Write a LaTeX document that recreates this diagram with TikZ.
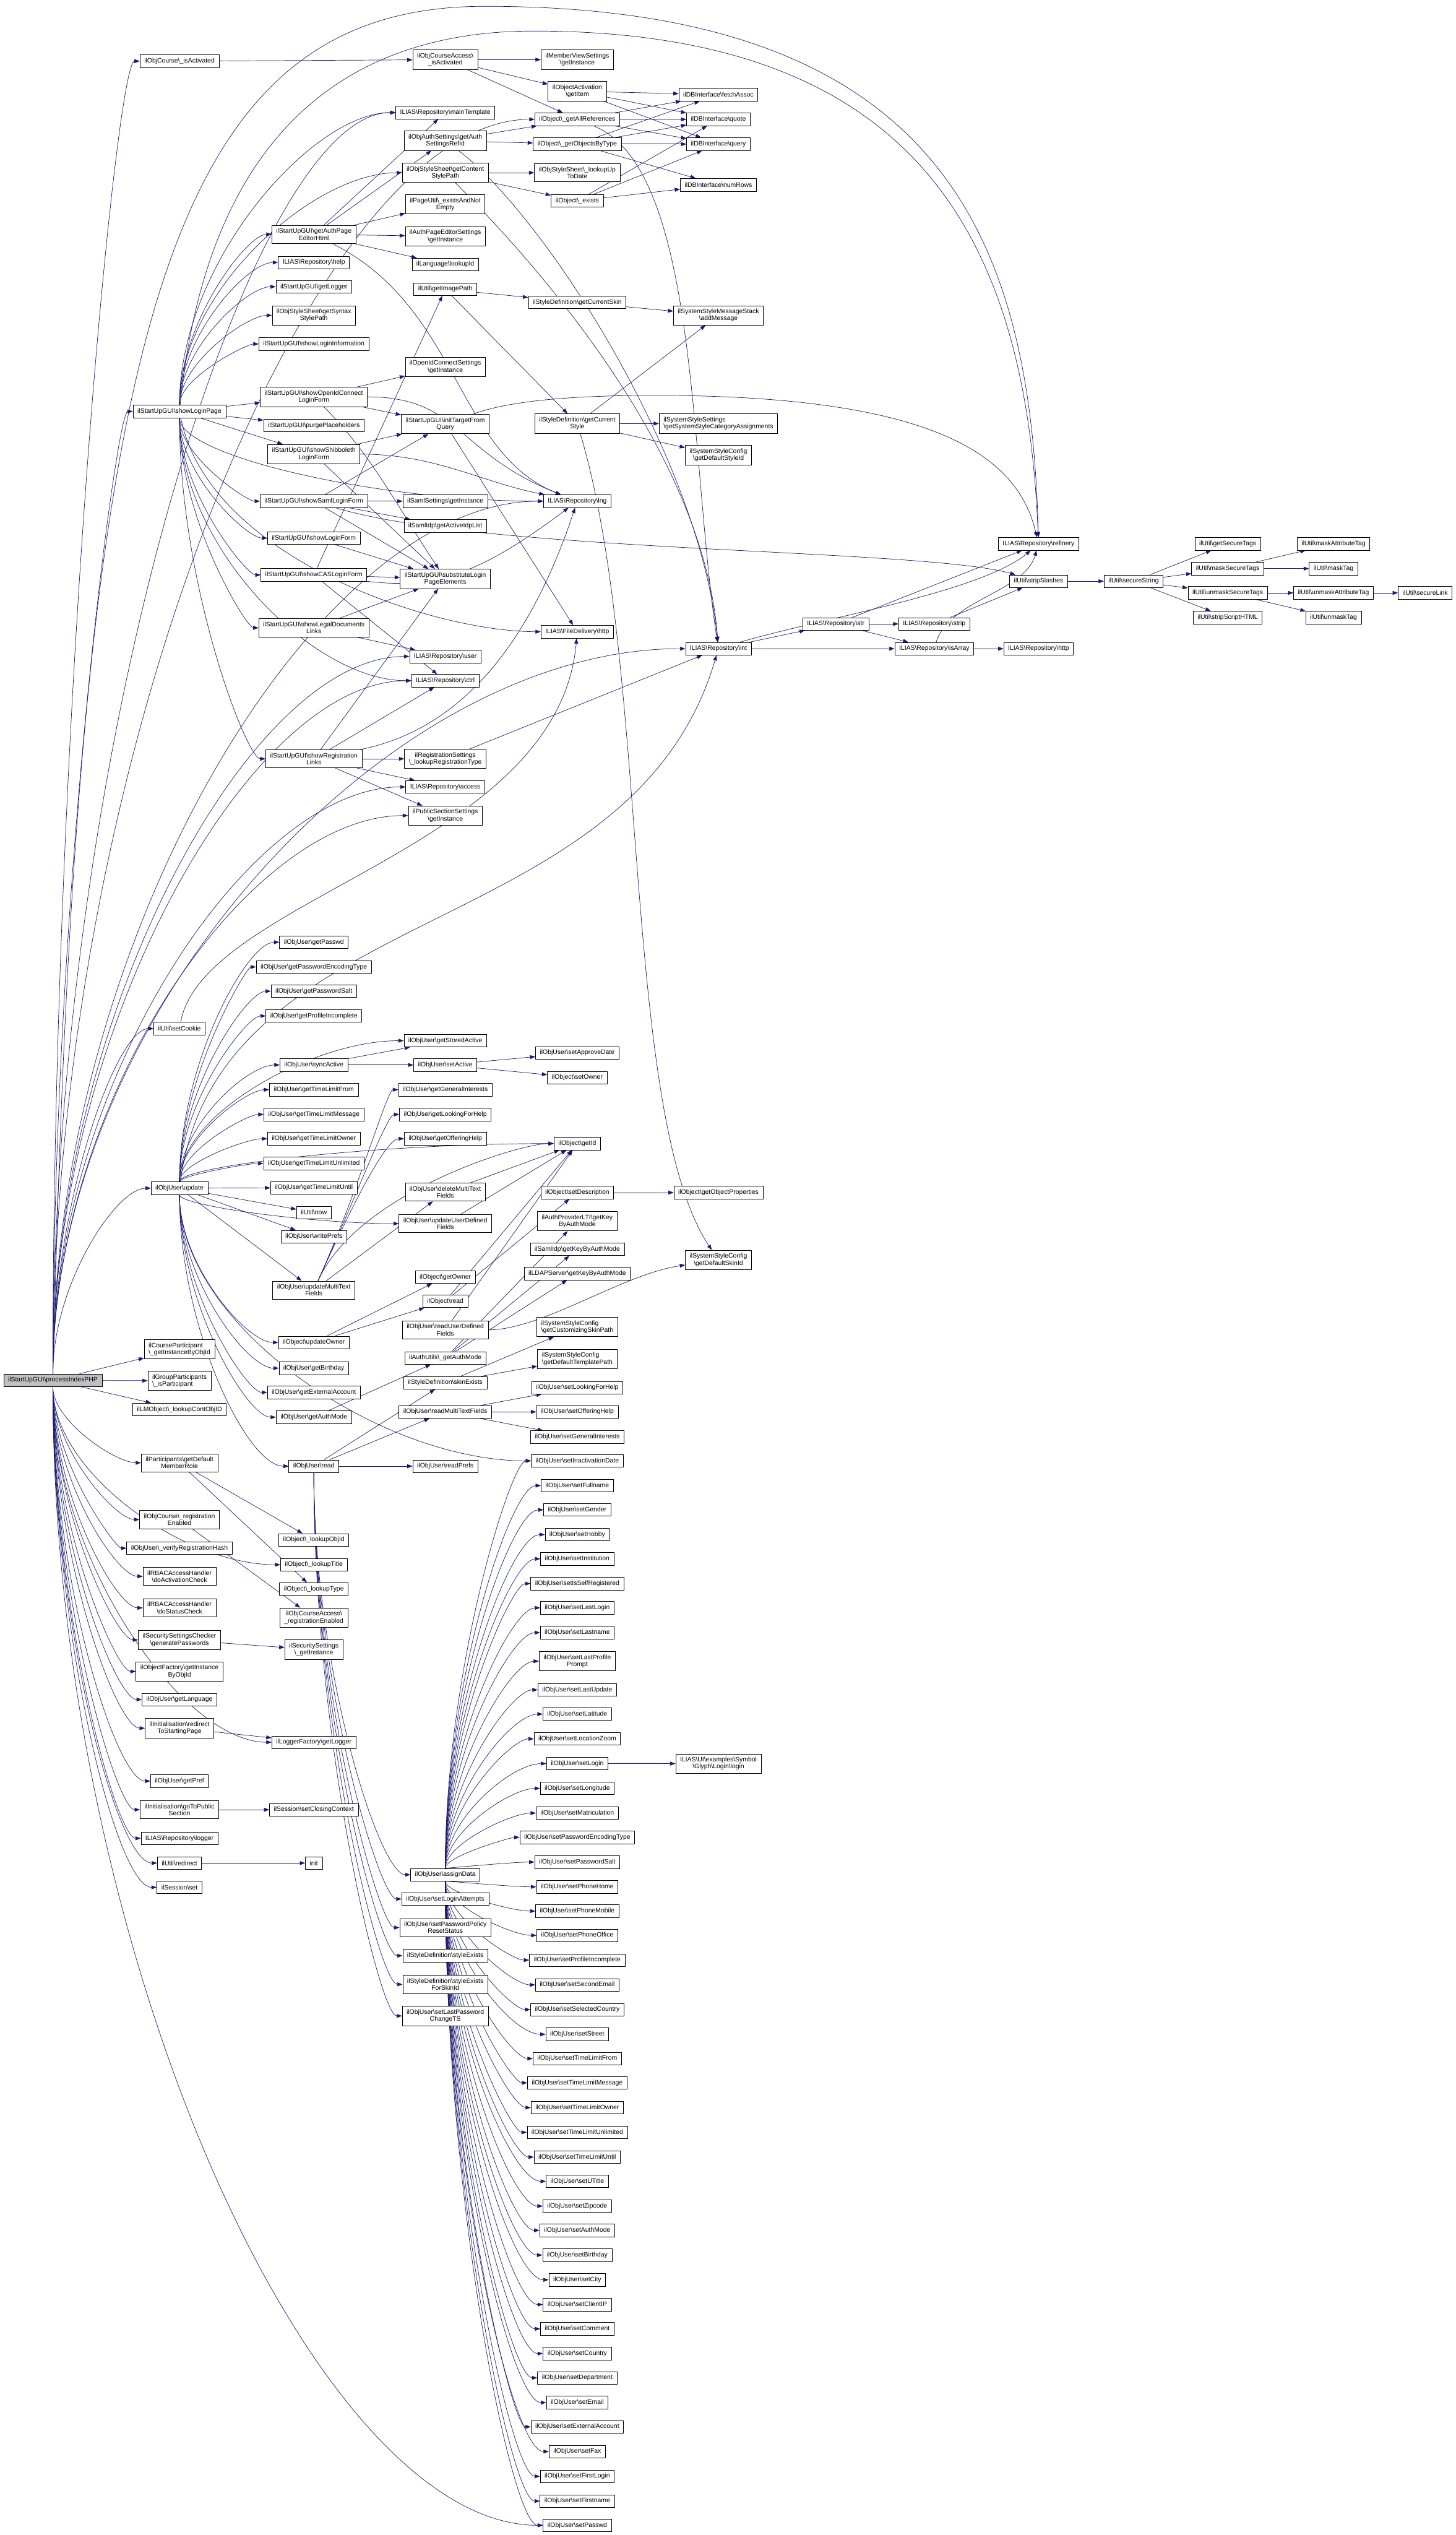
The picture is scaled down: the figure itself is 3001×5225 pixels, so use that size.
\documentclass[tikz,border=0pt]{standalone}
\usepackage{fontspec}
\setmainfont{Liberation Sans}
\usetikzlibrary{arrows.meta, calc}
\definecolor{edgeblue}{HTML}{191970}
\newcommand\bk{\textbackslash}
\newcommand\fnfont{\fontsize{13.3}{14.5}\selectfont}
\pgfdeclarelayer{edges}
\pgfsetlayers{edges,main}

\begin{document}
\begin{tikzpicture}[x=1pt, y=-1pt,
    fn/.style    = {rectangle, draw=black, fill=white, line width=0.9pt,
                    inner xsep=9pt, inner ysep=6.5pt, minimum height=26pt,
                    align=center, font=\fnfont},
    fnl/.style   = {fn, align=left},
    entry/.style = {fn, fill=black!25},
    call/.style  = {draw=edgeblue, line width=0.9pt,
                    -{Triangle[length=11pt,width=8pt]}},
    fan/.style   = {to path={.. controls
                    ($(\tikztostart)!0.5!(\tikztostart |- \tikztotarget)$) and
                    ($(\tikztotarget)!0.5!(\tikztostart |- \tikztotarget)$)
                    .. (\tikztotarget) \tikztonodes}},
  ]
  \useasboundingbox (0,0) rectangle (3001,5225);

  %-------------------------------------------------- entry point
  \node[entry] (root) at (109,2845) {ilStartUpGUI\bk processIndexPHP};

  %-------------------------------------------------- first level
  \node[fn] (crsIsAct)     at (370,126)  {ilObjCourse\bk\_isActivated};
  \node[fn] (showLogin)    at (370,848)  {ilStartUpGUI\bk showLoginPage};
  \node[fn] (setCookie)    at (370,2120) {ilUtil\bk setCookie};
  \node[fn] (usrUpdate)    at (370,2449) {ilObjUser\bk update};
  \node[fnl] (crsPart)     at (370,2781) {ilCourseParticipant\\\bk\_getInstanceByObjId};
  \node[fnl] (grpPart)     at (370,2846) {ilGroupParticipants\\\bk\_isParticipant};
  \node[fn] (lmObj)        at (370,2905) {ilLMObject\bk\_lookupContObjID};
  \node[fn] (partRole)     at (370,3015) {ilParticipants\bk getDefault\\MemberRole};
  \node[fn] (crsRegEn)     at (370,3132) {ilObjCourse\bk\_registration\\Enabled};
  \node[fn] (verifyHash)   at (370,3191) {ilObjUser\bk\_verifyRegistrationHash};
  \node[fn] (rbacAct)      at (370,3249) {ilRBACAccessHandler\\\bk doActivationCheck};
  \node[fn] (rbacStatus)   at (370,3314) {ilRBACAccessHandler\\\bk doStatusCheck};
  \node[fn] (genPw)        at (370,3380) {ilSecuritySettingsChecker\\\bk generatePasswords};
  \node[fn] (objFactory)   at (370,3445) {ilObjectFactory\bk getInstance\\ByObjId};
  \node[fn] (getLang)      at (370,3503) {ilObjUser\bk getLanguage};
  \node[fn] (redirStart)   at (370,3562) {ilInitialisation\bk redirect\\ToStartingPage};
  \node[fn] (getPref)      at (370,3671) {ilObjUser\bk getPref};
  \node[fn] (goPublic)     at (370,3730) {ilInitialisation\bk goToPublic\\Section};
  \node[fn] (repoLogger)   at (370,3789) {ILIAS\bk Repository\bk logger};
  \node[fn] (utilRedirect) at (370,3840) {ilUtil\bk redirect};
  \node[fn] (sessSet)      at (370,3890) {ilSession\bk set};

  %-------------------------------------------------- second level
  \node[fn] (authPageHtml) at (647,483)  {ilStartUpGUI\bk getAuthPage\\EditorHtml};
  \node[fn] (repoHelp)     at (647,541)  {ILIAS\bk Repository\bk help};
  \node[fn] (startLogger)  at (647,591)  {ilStartUpGUI\bk getLogger};
  \node[fn] (syntaxStyle)  at (647,650)  {ilObjStyleSheet\bk getSyntax\\StylePath};
  \node[fn] (loginInfo)    at (647,709)  {ilStartUpGUI\bk showLoginInformation};
  \node[fn] (oidcForm)     at (647,818)  {ilStartUpGUI\bk showOpenIdConnect\\LoginForm};
  \node[fn] (purgePh)      at (647,877)  {ilStartUpGUI\bk purgePlaceholders};
  \node[fn] (shibForm)     at (647,936)  {ilStartUpGUI\bk showShibboleth\\LoginForm};
  \node[fn] (samlForm)     at (647,1033) {ilStartUpGUI\bk showSamlLoginForm};
  \node[fn] (loginForm)    at (647,1109) {ilStartUpGUI\bk showLoginForm};
  \node[fn] (casForm)      at (647,1185) {ilStartUpGUI\bk showCASLoginForm};
  \node[fn] (legalDocs)    at (647,1294) {ilStartUpGUI\bk showLegalDocuments\\Links};
  \node[fn] (regLinks)     at (647,1564) {ilStartUpGUI\bk showRegistration\\Links};
  \foreach \n/\y in {Passwd/1942, PasswordEncodingType/1993, PasswordSalt/2043,
      ProfileIncomplete/2094, TimeLimitFrom/2246, TimeLimitMessage/2297,
      TimeLimitOwner/2347, TimeLimitUnlimited/2398, TimeLimitUntil/2448,
      Birthday/2820, ExternalAccount/2870, AuthMode/2921}
    \node[fn] (get\n) at (647,\y) {ilObjUser\bk get\n};
  \node[fn] (syncActive)   at (647,2195) {ilObjUser\bk syncActive};
  \node[fn] (utilNow)      at (647,2499) {ilUtil\bk now};
  \node[fn] (writePrefs)   at (647,2549) {ilObjUser\bk writePrefs};
  \node[fn] (updMulti)     at (647,2659) {ilObjUser\bk updateMultiText\\Fields};
  \node[fn] (updOwner)     at (647,2767) {ilObject\bk updateOwner};
  \node[fn] (usrRead)      at (647,3022) {ilObjUser\bk read};
  \node[fn] (lookupObjId)  at (647,3174) {ilObject\bk\_lookupObjId};
  \node[fn] (lookupTitle)  at (647,3225) {ilObject\bk\_lookupTitle};
  \node[fn] (lookupType)   at (647,3275) {ilObject\bk\_lookupType};
  \node[fn] (crsAccRegEn)  at (647,3334) {ilObjCourseAccess\bk\\\_registrationEnabled};
  \node[fn] (secSettings)  at (647,3400) {ilSecuritySettings\\\bk\_getInstance};
  \node[fn] (loggerFactory) at (647,3591) {ilLoggerFactory\bk getLogger};
  \node[fn] (closingCtx)   at (647,3730) {ilSession\bk setClosingContext};
  \node[fn] (init)         at (647,3840) {init};

  %-------------------------------------------------- third level
  \node[fn] (crsAccAct)    at (918,123)  {ilObjCourseAccess\bk\\\_isActivated};
  \node[fn] (mainTpl)      at (918,232)  {ILIAS\bk Repository\bk mainTemplate};
  \node[fn] (authRefId)    at (918,290)  {ilObjAuthSettings\bk getAuth\\SettingsRefId};
  \node[fn] (contentStyle) at (918,356)  {ilObjStyleSheet\bk getContent\\StylePath};
  \node[fn] (pageUtil)     at (918,421)  {ilPageUtil\bk\_existsAndNot\\Empty};
  \node[fn] (authPageSet)  at (918,487)  {ilAuthPageEditorSettings\\\bk getInstance};
  \node[fn] (langLookup)   at (918,545)  {ilLanguage\bk lookupId};
  \node[fn] (imagePath)    at (918,596)  {ilUtil\bk getImagePath};
  \node[fn] (oidcSet)      at (918,756)  {ilOpenIdConnectSettings\\\bk getInstance};
  \node[fn] (initTarget)   at (918,874)  {ilStartUpGUI\bk initTargetFrom\\Query};
  \node[fn] (samlSet)      at (918,1033) {ilSamlSettings\bk getInstance};
  \node[fn] (samlIdpList)  at (918,1084) {ilSamlIdp\bk getActiveIdpList};
  \node[fn] (substLogin)   at (918,1193) {ilStartUpGUI\bk substituteLogin\\PageElements};
  \node[fn] (repoUser)     at (918,1353) {ILIAS\bk Repository\bk user};
  \node[fn] (repoCtrl)     at (918,1403) {ILIAS\bk Repository\bk ctrl};
  \node[fn] (regSettings)  at (918,1564) {ilRegistrationSettings\\\bk\_lookupRegistrationType};
  \node[fn] (repoAccess)   at (918,1622) {ILIAS\bk Repository\bk access};
  \node[fn] (pubSection)   at (918,1681) {ilPublicSectionSettings\\\bk getInstance};
  \node[fn] (getStoredActive) at (918,2145) {ilObjUser\bk getStoredActive};
  \node[fn] (setActive)    at (918,2195) {ilObjUser\bk setActive};
  \node[fn] (getGenInt)    at (918,2246) {ilObjUser\bk getGeneralInterests};
  \node[fn] (getLooking)   at (918,2297) {ilObjUser\bk getLookingForHelp};
  \node[fn] (getOffering)  at (918,2347) {ilObjUser\bk getOfferingHelp};
  \node[fn] (delMulti)     at (918,2457) {ilObjUser\bk deleteMultiText\\Fields};
  \node[fn] (updUDF)       at (918,2522) {ilObjUser\bk updateUserDefined\\Fields};
  \node[fn] (objGetOwner)  at (918,2632) {ilObject\bk getOwner};
  \node[fn] (objRead)      at (918,2682) {ilObject\bk read};
  \node[fn] (readUDF)      at (918,2741) {ilObjUser\bk readUserDefined\\Fields};
  \node[fn] (authUtilsMode) at (918,2799) {ilAuthUtils\bk\_getAuthMode};
  \node[fn] (skinExists)   at (918,2850) {ilStyleDefinition\bk skinExists};
  \node[fn] (readMulti)    at (918,2910) {ilObjUser\bk readMultiTextFields};
  \node[fn] (readPrefs)    at (918,3022) {ilObjUser\bk readPrefs};
  \node[fn] (assignData)   at (918,3864) {ilObjUser\bk assignData};
  \node[fn] (setLoginAtt)  at (918,3914) {ilObjUser\bk setLoginAttempts};
  \node[fn] (setPwPolicy)  at (918,3973) {ilObjUser\bk setPasswordPolicy\\ResetStatus};
  \node[fn] (styleExists)  at (918,4031) {ilStyleDefinition\bk styleExists};
  \node[fn] (styleExistsSkin) at (918,4090) {ilStyleDefinition\bk styleExists\\ForSkinId};
  \node[fn] (setLastPwTS)  at (918,4155) {ilObjUser\bk setLastPassword\\ChangeTS};

  %-------------------------------------------------- fourth level
  \node[fn] (memberView)   at (1190,123)  {ilMemberViewSettings\\\bk getInstance};
  \node[fn] (actItem)      at (1190,188)  {ilObjectActivation\\\bk getItem};
  \node[fn] (getAllRefs)   at (1190,246)  {ilObject\bk\_getAllReferences};
  \node[fn] (objByType)    at (1190,297)  {ilObject\bk\_getObjectsByType};
  \node[fn] (lookupUpToDate) at (1190,356) {ilObjStyleSheet\bk\_lookupUp\\ToDate};
  \node[fn] (objExists)    at (1190,414)  {ilObject\bk\_exists};
  \node[fn] (currentSkin)  at (1190,623)  {ilStyleDefinition\bk getCurrentSkin};
  \node[fn] (currentStyle) at (1190,873)  {ilStyleDefinition\bk getCurrent\\Style};
  \node[fn] (repoLng)      at (1190,1033) {ILIAS\bk Repository\bk lng};
  \node[fn] (fileHttp)     at (1190,1302) {ILIAS\bk FileDelivery\bk http};
  \node[fn] (setApprove)   at (1190,2170) {ilObjUser\bk setApproveDate};
  \node[fn] (setOwner)     at (1190,2221) {ilObject\bk setOwner};
  \node[fn] (getId)        at (1190,2357) {ilObject\bk getId};
  \node[fn] (setDescr)     at (1190,2458) {ilObject\bk setDescription};
  \node[fn] (ltiKey)       at (1190,2517) {ilAuthProviderLTI\bk getKey\\ByAuthMode};
  \node[fn] (samlKey)      at (1190,2575) {ilSamlIdp\bk getKeyByAuthMode};
  \node[fn] (ldapKey)      at (1190,2625) {ilLDAPServer\bk getKeyByAuthMode};
  \node[fnl] (custSkinPath) at (1190,2735) {ilSystemStyleConfig\\\bk getCustomizingSkinPath};
  \node[fnl] (defTplPath)  at (1190,2801) {ilSystemStyleConfig\\\bk getDefaultTemplatePath};
  \foreach \n/\y in {LookingForHelp/2860, OfferingHelp/2910, GeneralInterests/2962,
      InactivationDate/3011, Fullname/3062, Gender/3112, Hobby/3163,
      Institution/3213, IsSelfRegistered/3264, LastLogin/3314, Lastname/3365,
      LastUpdate/3483, Latitude/3533, LocationZoom/3584, Login/3635,
      Longitude/3686, Matriculation/3737, PasswordEncodingType/3787,
      PasswordSalt/3838, PhoneHome/3889, PhoneMobile/3939, PhoneOffice/3989,
      ProfileIncomplete/4040, SecondEmail/4091, SelectedCountry/4142,
      Street/4193, TimeLimitFrom/4243, TimeLimitMessage/4293,
      TimeLimitOwner/4344, TimeLimitUnlimited/4395, TimeLimitUntil/4446,
      UTitle/4496, Zipcode/4547, AuthMode/4597, Birthday/4648, City/4699,
      ClientIP/4750, Comment/4800, Country/4851, Department/4901, Email/4952,
      ExternalAccount/5002, Fax/5053, FirstLogin/5104, Firstname/5155,
      Passwd/5205}
    \node[fn] (set\n) at (1190,\y) {ilObjUser\bk set\n};
  \node[fn] (setLastProfilePrompt) at (1190,3424) {ilObjUser\bk setLastProfile\\Prompt};

  %-------------------------------------------------- fifth level
  \node[fn] (fetchAssoc)   at (1481,195)  {ilDBInterface\bk fetchAssoc};
  \node[fn] (dbQuote)      at (1481,246)  {ilDBInterface\bk quote};
  \node[fn] (dbQuery)      at (1481,297)  {ilDBInterface\bk query};
  \node[fn] (numRows)      at (1481,381)  {ilDBInterface\bk numRows};
  \node[fn] (addMessage)   at (1481,650)  {ilSystemStyleMessageStack\\\bk addMessage};
  \node[fnl] (catAssign)   at (1481,873)  {ilSystemStyleSettings\\\bk getSystemStyleCategoryAssignments};
  \node[fn] (defStyleId)   at (1481,938)  {ilSystemStyleConfig\\\bk getDefaultStyleId};
  \node[fn] (repoInt)      at (1481,1337) {ILIAS\bk Repository\bk int};
  \node[fn] (objProps)     at (1481,2458) {ilObject\bk getObjectProperties};
  \node[fn] (defSkinId)    at (1481,2597) {ilSystemStyleConfig\\\bk getDefaultSkinId};
  \node[fn] (glyphLogin)   at (1481,3635) {ILIAS\bk UI\bk examples\bk Symbol\\\bk Glyph\bk Login\bk login};

  %-------------------------------------------------- string helpers
  \node[fn] (repoStr)      at (1723,1286) {ILIAS\bk Repository\bk str};
  \node[fn] (repoStrip)    at (1926,1286) {ILIAS\bk Repository\bk strip};
  \node[fn] (repoIsArray)  at (1926,1337) {ILIAS\bk Repository\bk isArray};
  \node[fn] (refinery)     at (2141,1121) {ILIAS\bk Repository\bk refinery};
  \node[fn] (stripSlashes) at (2141,1198) {ilUtil\bk stripSlashes};
  \node[fn] (repoHttp)     at (2141,1337) {ILIAS\bk Repository\bk http};
  \node[fn] (secureString) at (2337,1198) {ilUtil\bk secureString};
  \node[fn] (getSecureTags) at (2531,1121) {ilUtil\bk getSecureTags};
  \node[fn] (maskSecureTags) at (2531,1172) {ilUtil\bk maskSecureTags};
  \node[fn] (unmaskSecureTags) at (2531,1222) {ilUtil\bk unmaskSecureTags};
  \node[fn] (stripScriptHTML) at (2531,1273) {ilUtil\bk stripScriptHTML};
  \node[fn] (maskAttrTag)  at (2749,1121) {ilUtil\bk maskAttributeTag};
  \node[fn] (maskTag)      at (2749,1172) {ilUtil\bk maskTag};
  \node[fn] (unmaskAttrTag) at (2749,1222) {ilUtil\bk unmaskAttributeTag};
  \node[fn] (unmaskTag)    at (2749,1273) {ilUtil\bk unmaskTag};
  \node[fn] (secureLink)   at (2938,1222) {ilUtil\bk secureLink};

  %-------------------------------------------------- lanes for the long calls
  \coordinate (laneA) at (1000,13);
  \coordinate (laneB) at (1100,64);
  \coordinate (laneC) at (1350,815);

  \begin{pgfonlayer}{edges}
    %--- processIndexPHP
    \foreach \t in {crsIsAct, showLogin, setCookie, usrUpdate, partRole, crsRegEn,
        verifyHash, rbacAct, rbacStatus, genPw, objFactory, getLang, redirStart,
        getPref, goPublic, repoLogger, utilRedirect, sessSet, mainTpl, getAllRefs,
        repoUser, repoCtrl, repoAccess, pubSection, repoLng, repoInt, lookupTitle,
        loggerFactory, setPasswd}
      \draw[call] (root) to[fan] (\t);
    \foreach \t in {crsPart, grpPart, lmObj}
      \draw[call] (root) -- (\t);
    \draw[call] (root) .. controls (160,700) and (330,13) .. (laneA)
                .. controls (1950,13) and (2125,500) .. (refinery);

    %--- showLoginPage
    \foreach \t in {authPageHtml, repoHelp, startLogger, syntaxStyle, loginInfo,
        samlForm, loginForm, casForm, legalDocs, regLinks, mainTpl, contentStyle,
        repoCtrl, repoLng}
      \draw[call] (showLogin) to[fan] (\t);
    \foreach \t in {oidcForm, purgePh, shibForm}
      \draw[call] (showLogin) -- (\t);
    \draw[call] (showLogin) .. controls +(60,300) and +(-300,0) .. (fileHttp);
    \draw[call] (showLogin) .. controls (420,350) and (650,64) .. (laneB)
                .. controls (1900,64) and (2115,500) .. (refinery);
    \draw[call] (initTarget) .. controls (1040,830) and (1150,815) .. (laneC)
                .. controls (1950,815) and (2100,950) .. (refinery);

    %--- ilObjUser::update
    \foreach \t in {getPasswd, getPasswordEncodingType, getPasswordSalt,
        getProfileIncomplete, getStoredActive, syncActive, getTimeLimitFrom,
        getTimeLimitMessage, getTimeLimitOwner, getTimeLimitUnlimited, getId,
        updUDF, updOwner, getBirthday, getExternalAccount, getAuthMode, usrRead,
        setInactivationDate}
      \draw[call] (usrUpdate) to[fan] (\t);
    \foreach \t in {getTimeLimitUntil, utilNow, writePrefs, updMulti}
      \draw[call] (usrUpdate) -- (\t);
    \draw[call] (usrUpdate) .. controls (450,1850) and (1300,1950) .. (repoInt);
    \draw[call] (setCookie) .. controls (420,1850) and (1150,1750) .. (fileHttp);

    %--- ilObjUser::read and assignData
    \foreach \t in {assignData, setLoginAtt, setPwPolicy, styleExists,
        styleExistsSkin, setLastPwTS}
      \draw[call] (usrRead) to[fan] (\t);
    \foreach \n in {InactivationDate, Fullname, Gender, Hobby, Institution,
        IsSelfRegistered, LastLogin, Lastname, LastProfilePrompt, LastUpdate,
        Latitude, LocationZoom, Login, Longitude, Matriculation,
        PasswordEncodingType, PasswordSalt, PhoneHome, PhoneMobile, PhoneOffice,
        ProfileIncomplete, SecondEmail, SelectedCountry, Street, TimeLimitFrom,
        TimeLimitMessage, TimeLimitOwner, TimeLimitUnlimited, TimeLimitUntil,
        UTitle, Zipcode, AuthMode, Birthday, City, ClientIP, Comment, Country,
        Department, Email, ExternalAccount, Fax, FirstLogin, Firstname, Passwd}
      \draw[call] (assignData) to[fan] (set\n);

    %--- short calls
    \foreach \s/\t in {crsIsAct/crsAccAct, crsAccAct/memberView, crsAccAct/actItem,
        crsAccAct/getAllRefs, actItem/fetchAssoc, actItem/dbQuote, actItem/dbQuery,
        getAllRefs/fetchAssoc, getAllRefs/dbQuote, getAllRefs/dbQuery,
        objByType/fetchAssoc, objByType/dbQuote, objByType/dbQuery,
        objByType/numRows, objExists/dbQuote, objExists/dbQuery, objExists/numRows,
        authRefId/getAllRefs, authRefId/objByType, contentStyle/lookupUpToDate,
        contentStyle/objExists, authPageHtml/mainTpl, authPageHtml/authRefId,
        authPageHtml/pageUtil, authPageHtml/authPageSet, authPageHtml/langLookup,
        imagePath/currentSkin, imagePath/currentStyle, currentSkin/addMessage,
        currentStyle/addMessage, currentStyle/catAssign, currentStyle/defStyleId,
        oidcForm/oidcSet, oidcForm/initTarget, shibForm/initTarget,
        shibForm/substLogin, samlForm/initTarget, samlForm/samlSet,
        samlForm/samlIdpList, samlForm/substLogin, loginForm/substLogin,
        casForm/substLogin, casForm/repoCtrl, casForm/imagePath,
        legalDocs/substLogin, legalDocs/repoUser, regLinks/substLogin,
        regLinks/repoCtrl, regLinks/regSettings, regLinks/repoAccess,
        regLinks/pubSection, regSettings/repoInt, initTarget/fileHttp,
        repoInt/repoStr, repoInt/repoIsArray, repoStr/refinery, repoStr/repoStrip,
        repoStr/repoIsArray, repoStrip/stripSlashes, repoIsArray/repoHttp,
        stripSlashes/secureString, secureString/getSecureTags,
        secureString/maskSecureTags, secureString/unmaskSecureTags,
        secureString/stripScriptHTML, maskSecureTags/maskAttrTag,
        maskSecureTags/maskTag, unmaskSecureTags/unmaskAttrTag,
        unmaskSecureTags/unmaskTag, unmaskAttrTag/secureLink,
        syncActive/getStoredActive, syncActive/setActive, setActive/setApprove,
        setActive/setOwner, updMulti/delMulti, delMulti/getId, updUDF/getId,
        updOwner/objGetOwner, updOwner/objRead, objRead/getId, objRead/setDescr,
        readUDF/getId, setDescr/objProps, getAuthMode/authUtilsMode,
        authUtilsMode/ltiKey, authUtilsMode/samlKey, authUtilsMode/ldapKey,
        usrRead/readPrefs, usrRead/readMulti, usrRead/skinExists,
        skinExists/custSkinPath, skinExists/defTplPath,
        readMulti/setLookingForHelp, readMulti/setOfferingHelp,
        readMulti/setGeneralInterests, setLogin/glyphLogin,
        partRole/lookupObjId, partRole/lookupType, crsRegEn/crsAccRegEn,
        genPw/secSettings, redirStart/loggerFactory, goPublic/closingCtx,
        utilRedirect/init}
      \draw[call] (\s) -- (\t);

    %--- bent calls
    \foreach \t in {getGenInt, getLooking, getOffering, getId}
      \draw[call] (updMulti) .. controls +(90,-200) and +(-120,0) .. (\t);
    \draw[call] (getAllRefs) .. controls +(250,100) and +(-60,-400) .. (repoInt);
    \draw[call] (authRefId) .. controls +(200,150) and +(-40,-400) .. (repoInt);
    \draw[call] (contentStyle) .. controls +(200,200) and +(-30,-400) .. (repoInt);
    \draw[call] (authPageHtml) .. controls +(300,150) and +(-250,-100) .. (repoLng);
    \draw[call] (oidcForm) .. controls +(300,0) and +(-250,-100) .. (repoLng);
    \draw[call] (oidcForm) .. controls +(120,120) and +(-100,-150) .. (substLogin);
    \draw[call] (shibForm) .. controls +(250,0) and +(-200,-40) .. (repoLng);
    \draw[call] (casForm) .. controls +(250,30) and +(-200,150) .. (repoLng);
    \draw[call] (regLinks) .. controls +(300,-60) and +(-100,300) .. (repoLng);
    \draw[call] (currentStyle) .. controls +(150,500) and +(-200,-300) .. (defSkinId);
    \draw[call] (readUDF) .. controls +(200,0) and +(-200,30) .. (defSkinId);
    \draw[call] (repoIsArray) .. controls +(30,-100) and +(-30,100) .. (refinery);
    \draw[call] (repoInt) .. controls +(200,-60) and +(-120,100) .. (refinery);
    \draw[call] (samlForm) .. controls (1000,1140) and (1900,1130) .. (stripSlashes);
  \end{pgfonlayer}
\end{tikzpicture}
\end{document}
